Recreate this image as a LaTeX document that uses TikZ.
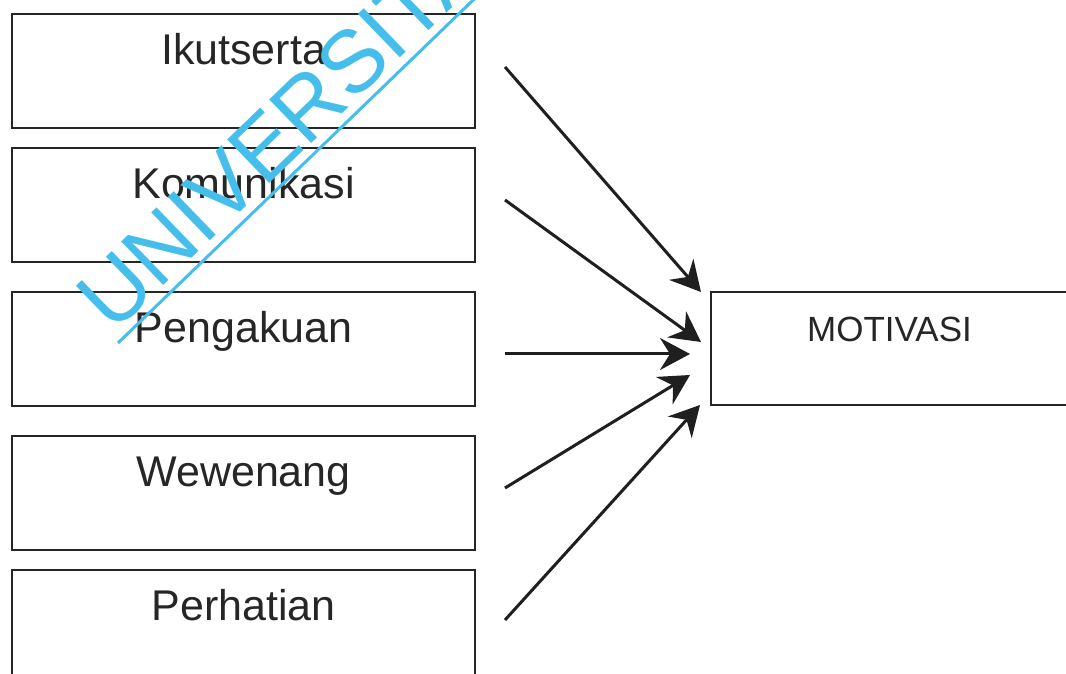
\documentclass[tikz,border=0pt]{standalone}
\usepackage{fontspec}
\setmainfont{Liberation Sans}
\usetikzlibrary{arrows.meta}
\definecolor{wmcyan}{RGB}{70,190,235}
\begin{document}
\begin{tikzpicture}[x=1pt,y=1pt,
  factor/.style={draw=black!85, line width=1.5pt, inner sep=0pt,
    minimum width=463pt, minimum height=114pt,
    text height=51pt, text depth=63pt,
    font=\fontsize{43}{50}\selectfont, text=black!85},
  result/.style={draw=black!85, line width=1.5pt, inner sep=0pt,
    minimum width=357pt, minimum height=113pt,
    text height=50pt, text depth=63pt,
    font=\fontsize{35}{42}\selectfont, text=black!85},
  link/.style={line width=3pt, draw=black!88,
    -{Stealth[length=30pt, width=32pt, inset=10pt]}}]
\useasboundingbox (0,0) rectangle (1066,674);

% factor boxes on the left
\node[factor] (b1) at (243.5,603) {Ikutserta};
\node[factor] (b2) at (243.5,469) {Komunikasi};
\node[factor] (b3) at (243.5,325) {Pengakuan};
\node[factor] (b4) at (243.5,181) {Wewenang};
\node[factor] (b5) at (243.5,47)  {Perhatian};

% outcome box
\node[result] (mot) at (889.5,325.5) {MOTIVASI};

% arrow start and tip points
\coordinate (s1) at (505,607);
\coordinate (s2) at (505,474);
\coordinate (s3) at (505,320);
\coordinate (s4) at (505,186);
\coordinate (s5) at (505,54);
\coordinate (t1) at (701,382);
\coordinate (t2) at (701,332);
\coordinate (t3) at (690,320);
\coordinate (t4) at (690,299);
\coordinate (t5) at (700,269);

\draw[link] (s1) -- (t1);
\draw[link] (s2) -- (t2);
\draw[link] (s3) -- (t3);
\draw[link] (s4) -- (t4);
\draw[link] (s5) -- (t5);

% watermark
\node[anchor=base west, rotate=44, text=wmcyan, inner sep=0pt,
  font=\fontsize{88}{100}\selectfont] (wm) at (113,339) {UNIVERSITAS};
\draw[wmcyan, line width=3pt] (118,331) coordinate (wmA) -- ++(44:520) coordinate (wmB);
\end{tikzpicture}
\end{document}
